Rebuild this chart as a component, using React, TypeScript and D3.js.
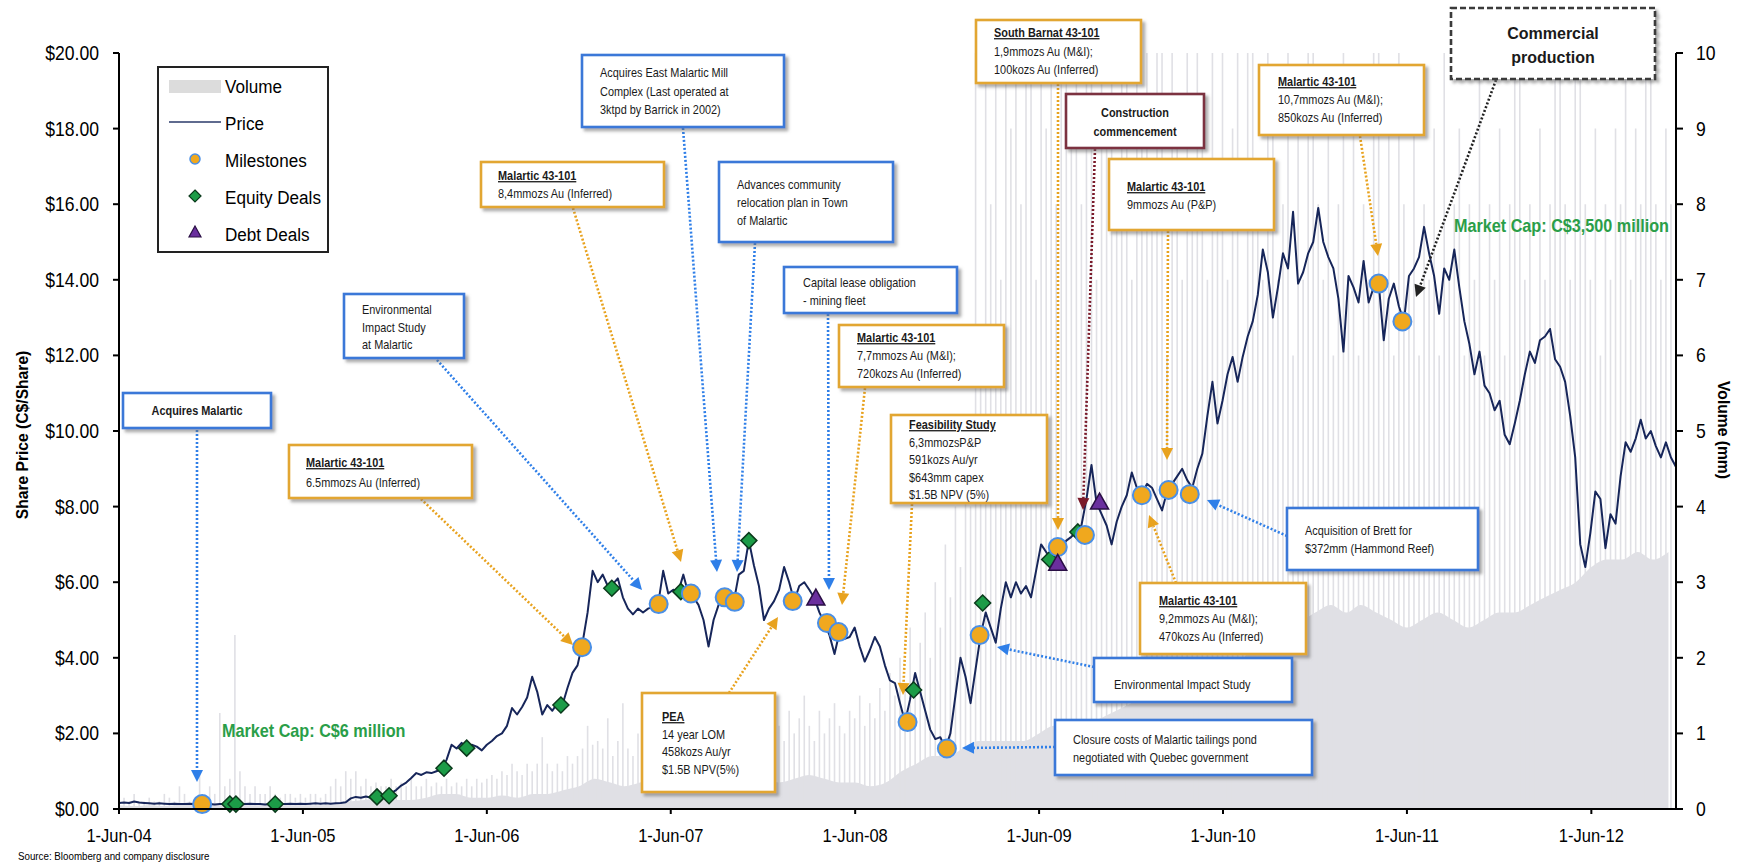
import React, { useEffect } from "react";
import * as d3 from "d3";

// ---------------- DATA ----------------
// Share price (C$/share), one reading every 10 days from the start date
const PRICE_START = "2004-06-01";
const PRICE_STEP_DAYS = 10;
const priceValues = [
  0.16, 0.17, 0.16, 0.2, 0.17, 0.16, 0.15, 0.14, 0.15, 0.14,
  0.13, 0.14, 0.13, 0.13, 0.14, 0.13, 0.13, 0.14, 0.13, 0.12,
  0.13, 0.13, 0.14, 0.13, 0.12, 0.13, 0.14, 0.13, 0.13, 0.12,
  0.13, 0.14, 0.13, 0.13, 0.14, 0.13, 0.14, 0.13, 0.14, 0.15,
  0.14, 0.15, 0.14, 0.15, 0.16, 0.18, 0.28, 0.32, 0.3, 0.33,
  0.3, 0.32, 0.38, 0.35, 0.42, 0.5, 0.62, 0.7, 0.82, 0.95,
  0.9, 0.97, 0.95, 1.0, 1.05, 1.3, 1.7, 1.6, 1.75, 1.62,
  1.7, 1.65, 1.55, 1.7, 1.8, 1.93, 2.0, 2.2, 2.67, 2.5,
  2.7, 2.95, 3.5, 3.1, 2.5, 2.75, 2.6, 2.8, 2.75, 3.2,
  3.6, 3.8, 4.4, 5.2, 6.3, 6.0, 6.2, 5.9, 5.95, 6.1,
  5.6, 5.3, 5.15, 5.3, 5.2, 5.3, 5.35, 5.42, 6.3, 5.7,
  5.8, 5.75, 6.2, 5.7, 5.6, 5.4, 5.0, 4.3, 5.0, 5.4,
  5.6, 5.55, 5.48, 6.2, 6.3, 7.1, 6.45, 5.9, 5.0, 5.3,
  5.5, 5.8, 6.4, 6.0, 5.5, 5.9, 6.0, 5.8, 5.58, 5.2,
  4.92, 4.6, 4.1, 4.68, 4.5, 4.55, 4.8, 4.3, 3.9, 4.2,
  4.55, 4.3, 3.8, 3.4, 3.33, 2.8, 2.3, 2.9, 3.6, 3.1,
  2.6, 2.1, 1.85, 1.9, 1.6, 2.0, 3.0, 4.0, 3.5, 2.8,
  3.7, 4.6, 5.2, 4.8, 4.4, 5.3, 6.0, 5.6, 6.0, 5.7,
  5.9, 5.6, 6.3, 7.0, 6.8, 6.6, 7.0, 6.93, 7.1, 7.2,
  7.33, 7.5, 8.2, 9.1, 8.1, 7.8, 7.5, 7.0, 7.6, 8.0,
  8.3, 8.9, 8.5, 8.3, 8.6, 8.5, 8.2, 7.9, 8.4, 8.6,
  8.8, 9.0, 8.7, 8.5, 9.0, 9.4, 10.4, 11.3, 10.2, 10.8,
  11.5, 11.96, 11.3, 11.96, 12.5, 12.9, 13.6, 14.8, 14.2, 13.0,
  13.8, 14.7, 14.3, 15.8, 13.9, 14.2, 14.7, 15.0, 15.9, 15.0,
  14.6, 14.3, 13.5, 12.1, 14.1, 13.8, 13.4, 14.5, 13.4, 13.8,
  13.9, 12.4, 13.5, 13.9, 13.3, 12.9, 14.1, 14.3, 14.6, 15.4,
  14.7, 14.1, 13.1, 14.3, 14.0, 14.8, 13.8, 12.9, 12.3, 11.5,
  12.1, 11.2, 11.0, 10.55, 10.8, 9.9, 9.65, 10.2, 10.8, 11.5,
  12.1, 11.8, 12.4, 12.5, 12.7, 11.9, 11.7, 11.3, 10.4, 9.3,
  7.0, 6.4, 7.3, 8.4, 8.2, 6.9, 7.8, 7.55, 8.8, 9.7,
  9.45, 9.8, 10.3, 9.8, 10.0, 9.6, 9.3, 9.7, 9.3, 9.05,
];

// Volume (mm): peak daily volume in each 10-day window
const VOLUME_START = "2004-06-01";
const VOLUME_STEP_DAYS = 10;
const volumePeaks = [
  0.1, 0.15, 0.1, 0.2, 0.1, 0.1, 0.15, 0.1, 0.1, 0.2,
  0.15, 0.1, 0.3, 0.2, 0.1, 0.15, 0.5, 0.2, 0.3, 0.2,
  1.27, 0.3, 0.4, 2.3, 0.5, 0.3, 0.2, 0.3, 0.2, 0.2,
  0.3, 0.2, 0.15, 0.2, 0.2, 0.15, 0.2, 0.15, 0.2, 0.2,
  0.15, 0.2, 0.3, 0.4, 0.3, 0.5, 0.4, 0.5, 0.3, 0.4,
  0.3, 0.35, 0.3, 0.3, 0.4, 0.3, 0.35, 0.3, 0.4, 0.3,
  0.3, 0.4, 0.3, 0.35, 0.3, 0.4, 0.3, 0.35, 0.3, 0.4,
  0.3, 0.4, 0.35, 0.4, 0.45, 0.4, 0.5, 0.45, 0.6, 0.5,
  0.45, 0.6, 0.5, 0.6, 0.95, 0.6, 0.5, 0.6, 0.5, 0.7,
  0.6, 0.7, 0.8, 1.1, 0.85, 0.9, 0.8, 1.2, 0.7, 0.9,
  1.4, 0.8, 0.7, 1.0, 0.9, 1.3, 0.8, 1.1, 0.9, 1.4,
  0.8, 1.0, 1.2, 0.9, 1.5, 1.0, 0.8, 1.3, 0.9, 1.1,
  1.0, 1.4, 1.2, 0.9, 1.1, 1.3, 1.0, 0.9, 1.2, 1.4,
  1.0, 1.1, 0.9, 1.3, 1.0, 1.2, 1.5, 1.1, 0.9, 1.3,
  1.0, 1.2, 1.4, 1.1, 1.0, 1.3, 1.2, 1.5, 1.1, 1.4,
  1.2, 1.6, 1.3, 1.8, 1.5, 2.0, 1.6, 2.4, 1.8, 2.2,
  2.6, 2.0, 3.0, 2.4, 3.5, 2.8, 4.0, 3.2, 5.0, 4.0,
  10, 6, 10, 8, 10, 7, 10, 9, 10, 8,
  10, 10, 7, 10, 9, 10, 8, 10, 10, 9,
  10, 8, 10, 10, 7, 10, 9, 10, 8, 10,
  10, 7, 10, 9, 10, 8, 10, 10, 6, 10,
  9, 7, 10, 8, 10, 9, 7, 10, 8, 10,
  7, 9, 10, 6, 10, 10, 8, 7, 10, 9,
  7, 8, 10, 6, 9, 7, 10, 10, 8, 7,
  9, 6, 8, 10, 7, 9, 6, 8, 7, 10,
  10, 7, 9, 6, 10, 8, 7, 9, 6, 8,
  7, 9, 6, 10, 7, 8, 9, 6, 8, 7,
  10, 6, 8, 7, 9, 6, 8, 10, 10, 7,
  8, 6, 9, 7, 8, 10, 10, 8, 7, 10,
  10, 8, 7, 9, 6, 8, 7, 9, 8, 10,
  7, 9, 8, 10, 10, 8, 7, 9, 8, 7,
];

// Volume (mm): typical daily level, one value per month
const VOLUME_BASE_START = "2004-06-01";
const volumeBase = [
  0.05, 0.04, 0.05, 0.04, 0.06, 0.08, 0.06,
  0.08, 0.05, 0.05, 0.06, 0.05, 0.05, 0.05, 0.06, 0.1, 0.12, 0.15, 0.12,
  0.12, 0.15, 0.2, 0.2, 0.15, 0.15, 0.18, 0.15, 0.2, 0.2, 0.25, 0.3,
  0.4, 0.35, 0.3, 0.35, 0.4, 0.35, 0.4, 0.45, 0.4, 0.4, 0.45, 0.4,
  0.35, 0.4, 0.45, 0.4, 0.35, 0.35, 0.3, 0.35, 0.5, 0.6, 0.7, 0.7,
  0.8, 0.9, 0.9, 0.9, 0.9, 1.0, 1.1, 1.0, 1.1, 1.2, 1.3, 1.4,
  1.5, 1.6, 1.6, 1.7, 1.8, 1.8, 1.9, 2.2, 2.5, 2.6, 2.5, 2.6,
  2.7, 2.6, 2.7, 2.6, 2.5, 2.4, 2.5, 2.6, 2.5, 2.4, 2.5, 2.6,
  2.6, 2.7, 2.8, 2.9, 3.0, 3.2, 3.3, 3.3, 3.4, 3.3, 3.4,
];

const milestoneDates = [
  "2004-11-13", "2006-12-07", "2007-05-08", "2007-07-11", "2007-09-16", "2007-10-06",
  "2008-01-29", "2008-04-06", "2008-04-29", "2008-09-13", "2008-11-30", "2009-02-03",
  "2009-07-08", "2009-08-31", "2009-12-22", "2010-02-13", "2010-03-27", "2011-04-06", "2011-05-23",
];
const milestonePrices = [
  0.13, 4.28, 5.42, 5.7, 5.6, 5.48, 5.5, 4.92, 4.68, 2.3, 1.6, 4.6,
  6.93, 7.25, 8.3, 8.44, 8.33, 13.9, 12.9,
];

const equityDates = [
  "2005-01-07", "2005-01-19", "2005-04-07", "2005-10-26", "2005-11-19", "2006-03-08",
  "2006-04-22", "2006-10-26", "2007-02-04", "2007-06-21", "2007-11-03", "2008-09-25",
  "2009-02-09", "2009-06-22", "2009-08-17",
];
const equityPrices = [
  0.13, 0.13, 0.13, 0.32, 0.35, 1.08, 1.61, 2.75, 5.84, 5.75, 7.1, 3.15, 5.45, 6.6, 7.33,
];

const debtDates = ["2008-03-15", "2009-07-08", "2009-09-29"];
const debtPrices = [5.58, 6.5, 8.12];

const xTickDates = [
  "2004-06-01", "2005-06-01", "2006-06-01", "2007-06-01", "2008-06-01",
  "2009-06-01", "2010-06-01", "2011-06-01", "2012-06-01",
];
const xTickLabels = [
  "1-Jun-04", "1-Jun-05", "1-Jun-06", "1-Jun-07", "1-Jun-08",
  "1-Jun-09", "1-Jun-10", "1-Jun-11", "1-Jun-12",
];
const priceTicks = [0, 2, 4, 6, 8, 10, 12, 14, 16, 18, 20];
const volumeTicks = [0, 1, 2, 3, 4, 5, 6, 7, 8, 9, 10];
const legendLabels = ["Volume", "Price", "Milestones", "Equity Deals", "Debt Deals"];

// ---------------- LAYOUT / STYLE ----------------
const SANS = "'Liberation Sans', Arial, sans-serif";

const C = {
  blueBox: "#3b78d8",
  orangeBox: "#e2a633",
  redBox: "#7b3040",
  darkBox: "#3a3a3a",
  blueArrow: "#2f7fe8",
  orangeArrow: "#e8a21e",
  redArrow: "#7a1a2a",
  darkArrow: "#222",
  milestoneFill: "#f0a81e",
  milestoneStroke: "#4a8fe6",
  equityFill: "#1c9c47",
  equityStroke: "#0b3a1c",
  debtFill: "#6a2f9e",
  debtStroke: "#2a0f45",
  price: "#17265a",
  volume: "#e0e0e5",
  green: "#2a9e48",
};

type Line = { t: string; title?: boolean };
type Ann = {
  x: number; y: number; w: number; h: number;
  color: string; arrowColor: string;
  tx: number; ty: number; lh: number;
  center?: boolean; bold?: boolean; dashed?: boolean; big?: boolean;
  lines: Line[];
  from: [number, number]; to: [number, number];
};

const L = (t: string): Line => ({ t });
const T = (t: string): Line => ({ t, title: true });

const annotations: Ann[] = [
  { x: 123, y: 393, w: 148, h: 35, color: C.blueBox, arrowColor: C.blueArrow, tx: 197, ty: 415, lh: 18, center: true, bold: true,
    lines: [L("Acquires Malartic")], from: [197, 430], to: [197, 782] },
  { x: 344, y: 294, w: 120, h: 64, color: C.blueBox, arrowColor: C.blueArrow, tx: 362, ty: 314, lh: 17.5,
    lines: [L("Environmental"), L("Impact Study"), L("at Malartic")], from: [437, 360], to: [642, 590] },
  { x: 481, y: 162, w: 183, h: 45, color: C.orangeBox, arrowColor: C.orangeArrow, tx: 498, ty: 180, lh: 18,
    lines: [T("Malartic 43-101"), L("8,4mmozs Au (Inferred)")], from: [573, 208], to: [681, 562] },
  { x: 289, y: 445, w: 183, h: 53, color: C.orangeBox, arrowColor: C.orangeArrow, tx: 306, ty: 467, lh: 20,
    lines: [T("Malartic 43-101"), L("6.5mmozs Au (Inferred)")], from: [421, 499], to: [573, 645] },
  { x: 582, y: 55, w: 202, h: 72, color: C.blueBox, arrowColor: C.blueArrow, tx: 600, ty: 77, lh: 18.5,
    lines: [L("Acquires East Malartic Mill"), L("Complex (Last operated at"), L("3ktpd by Barrick in 2002)")], from: [683, 128], to: [717, 572] },
  { x: 719, y: 162, w: 174, h: 80, color: C.blueBox, arrowColor: C.blueArrow, tx: 737, ty: 189, lh: 18,
    lines: [L("Advances community"), L("relocation plan in Town"), L("of Malartic")], from: [755, 243], to: [737, 572] },
  { x: 784, y: 267, w: 173, h: 46, color: C.blueBox, arrowColor: C.blueArrow, tx: 803, ty: 287, lh: 17.5,
    lines: [L("Capital lease obligation"), L("- mining fleet")], from: [828, 314], to: [829, 590] },
  { x: 839, y: 325, w: 165, h: 62, color: C.orangeBox, arrowColor: C.orangeArrow, tx: 857, ty: 342, lh: 18,
    lines: [T("Malartic 43-101"), L("7,7mmozs Au (M&I);"), L("720kozs Au (Inferred)")], from: [865, 388], to: [842, 605] },
  { x: 891, y: 415, w: 156, h: 88, color: C.orangeBox, arrowColor: C.orangeArrow, tx: 909, ty: 429, lh: 17.5,
    lines: [T("Feasibility Study"), L("6,3mmozsP&P"), L("591kozs Au/yr"), L("$643mm capex"), L("$1.5B NPV (5%)")], from: [912, 504], to: [903, 695] },
  { x: 976, y: 20, w: 165, h: 63, color: C.orangeBox, arrowColor: C.orangeArrow, tx: 994, ty: 37, lh: 18.5,
    lines: [T("South Barnat 43-101"), L("1,9mmozs Au (M&I);"), L("100kozs Au (Inferred)")], from: [1058, 84], to: [1058, 530] },
  { x: 1066, y: 94, w: 138, h: 54, color: C.redBox, arrowColor: C.redArrow, tx: 1135, ty: 117, lh: 19, center: true, bold: true,
    lines: [L("Construction"), L("commencement")], from: [1095, 149], to: [1083, 510] },
  { x: 1109, y: 159, w: 165, h: 71, color: C.orangeBox, arrowColor: C.orangeArrow, tx: 1127, ty: 191, lh: 18,
    lines: [T("Malartic 43-101"), L("9mmozs Au (P&P)")], from: [1168, 231], to: [1167, 460] },
  { x: 1259, y: 65, w: 165, h: 70, color: C.orangeBox, arrowColor: C.orangeArrow, tx: 1278, ty: 86, lh: 18,
    lines: [T("Malartic 43-101"), L("10,7mmozs Au (M&I);"), L("850kozs Au (Inferred)")], from: [1360, 136], to: [1378, 256] },
  { x: 1451, y: 8, w: 204, h: 71, color: C.darkBox, arrowColor: C.darkArrow, tx: 1553, ty: 39, lh: 24, center: true, bold: true, dashed: true, big: true,
    lines: [L("Commercial"), L("production")], from: [1496, 80], to: [1416, 297] },
  { x: 1287, y: 508, w: 191, h: 62, color: C.blueBox, arrowColor: C.blueArrow, tx: 1305, ty: 535, lh: 17.5,
    lines: [L("Acquisition of Brett for"), L("$372mm (Hammond Reef)")], from: [1287, 536], to: [1207, 500] },
  { x: 1140, y: 583, w: 166, h: 71, color: C.orangeBox, arrowColor: C.orangeArrow, tx: 1159, ty: 605, lh: 18,
    lines: [T("Malartic 43-101"), L("9,2mmozs Au (M&I);"), L("470kozs Au (Inferred)")], from: [1176, 583], to: [1149, 515] },
  { x: 1094, y: 658, w: 198, h: 44, color: C.blueBox, arrowColor: C.blueArrow, tx: 1114, ty: 689, lh: 18,
    lines: [L("Environmental Impact Study")], from: [1094, 667], to: [997, 647] },
  { x: 1055, y: 720, w: 257, h: 55, color: C.blueBox, arrowColor: C.blueArrow, tx: 1073, ty: 744, lh: 18,
    lines: [L("Closure costs of Malartic tailings pond"), L("negotiated with Quebec government")], from: [1055, 747], to: [962, 748] },
  { x: 642, y: 693, w: 133, h: 99, color: C.orangeBox, arrowColor: C.orangeArrow, tx: 662, ty: 721, lh: 17.5,
    lines: [T("PEA"), L("14 year LOM"), L("458kozs Au/yr"), L("$1.5B NPV(5%)")], from: [729, 693], to: [778, 617] },
];

function arrowPath(from: [number, number], to: [number, number], len = 12, hw = 6) {
  const [x1, y1] = from;
  const [x2, y2] = to;
  const dx = x2 - x1, dy = y2 - y1;
  const d = Math.hypot(dx, dy) || 1;
  const ux = dx / d, uy = dy / d;
  const bx = x2 - ux * len, by = y2 - uy * len;
  const head = `M${x2},${y2}L${bx - uy * hw},${by + ux * hw}L${bx + uy * hw},${by - ux * hw}Z`;
  return { head, bx, by };
}

// condensed text (narrow look) via horizontal scaling
function NText(props: any) {
  const { x, y, sx = 0.86, children, ...rest } = props;
  return (
    <text transform={`translate(${x},${y}) scale(${sx},1)`} fontFamily={SANS} {...rest}>
      {children}
    </text>
  );
}

export default function App() {
  useEffect(() => {
    document.body.style.margin = "0";
  }, []);

  const parse = d3.utcParse("%Y-%m-%d");
  const p = (s: string) => parse(s) as Date;

  const left = 119, right = 1676, top = 53, bottom = 809;

  const x = d3.scaleUtc().domain([p("2004-06-01"), p("2012-11-16")]).range([left, right]);
  const yP = d3.scaleLinear().domain([0, 20]).range([bottom, top]);
  const yV = d3.scaleLinear().domain([0, 10]).range([bottom, top]);

  const priceStart = p(PRICE_START);
  const pricePts: [Date, number][] = priceValues.map((v, i) => [d3.utcDay.offset(priceStart, i * PRICE_STEP_DAYS), v]);
  const volStart = p(VOLUME_START);
  const volPts: [Date, number][] = volumePeaks.map((v, i) => [d3.utcDay.offset(volStart, i * VOLUME_STEP_DAYS), v]);
  const baseStart = p(VOLUME_BASE_START);
  const basePts: [Date, number][] = volumeBase.map((v, i) => [d3.utcMonth.offset(baseStart, i), v]);

  const priceLine = d3.line<[Date, number]>().x((d) => x(d[0])).y((d) => yP(d[1]));
  const baseArea = d3
    .area<[Date, number]>()
    .x((d) => x(d[0]))
    .y0(yV(0))
    .y1((d) => yV(d[1]))
    .curve(d3.curveMonotoneX);

  const diamond = "M0,-8L8,0L0,8L-8,0Z";
  const triangle = "M0,-9L9,7L-9,7Z";

  return (
    <svg width={1737} height={864} style={{ display: "block", background: "#fff" }}>
      <defs>
        <clipPath id="plotClip">
          <rect x={left} y={top} width={right - left} height={bottom - top} />
        </clipPath>
        <filter id="shadow" x="-10%" y="-10%" width="130%" height="150%">
          <feDropShadow dx="3" dy="3" stdDeviation="1.6" floodColor="#6b6b6b" floodOpacity="0.55" />
        </filter>
      </defs>

      {/* volume */}
      <g clipPath="url(#plotClip)">
        <path d={baseArea(basePts) || ""} fill={C.volume} />
        {volPts.map((d, i) => (
          <line key={i} x1={x(d[0])} x2={x(d[0])} y1={yV(0)} y2={yV(Math.min(d[1], 10))} stroke={C.volume} strokeWidth={1.6} />
        ))}
      </g>

      {/* price */}
      <g clipPath="url(#plotClip)">
        <path d={priceLine(pricePts) || ""} fill="none" stroke={C.price} strokeWidth={2} strokeLinejoin="round" />
      </g>

      {/* annotation arrows */}
      {annotations.map((a, i) => {
        const ah = arrowPath(a.from, a.to);
        return (
          <g key={"ar" + i}>
            <line x1={a.from[0]} y1={a.from[1]} x2={ah.bx} y2={ah.by} stroke={a.arrowColor} strokeWidth={2.6} strokeDasharray="2 2" />
            <path d={ah.head} fill={a.arrowColor} />
          </g>
        );
      })}

      {/* annotation boxes */}
      {annotations.map((a, i) => (
        <g key={"bx" + i}>
          <rect x={a.x} y={a.y} width={a.w} height={a.h} fill="#fff" stroke={a.color} strokeWidth={2.6}
            strokeDasharray={a.dashed ? "6 3" : undefined} filter="url(#shadow)" />
          {a.lines.map((ln, j) =>
            a.big ? (
              <text key={j} x={a.tx} y={a.ty + j * a.lh} textAnchor="middle" fontFamily={SANS} fontSize={16} fontWeight="bold" fill="#1a1a1a">
                {ln.t}
              </text>
            ) : (
              <NText key={j} x={a.tx} y={a.ty + j * a.lh} sx={0.84}
                textAnchor={a.center ? "middle" : "start"}
                fontSize={13}
                fontWeight={a.bold || ln.title ? "bold" : "normal"}
                style={ln.title ? { textDecoration: "underline" } : undefined}
                fill="#1a1a1a">
                {ln.t}
              </NText>
            )
          )}
        </g>
      ))}

      {/* markers */}
      {equityDates.map((d, i) => (
        <path key={"e" + i} d={diamond} transform={`translate(${x(p(d))},${yP(equityPrices[i])})`} fill={C.equityFill} stroke={C.equityStroke} strokeWidth={1.5} />
      ))}
      {milestoneDates.map((d, i) => (
        <circle key={"m" + i} cx={x(p(d))} cy={yP(milestonePrices[i])} r={9} fill={C.milestoneFill} stroke={C.milestoneStroke} strokeWidth={2} />
      ))}
      {debtDates.map((d, i) => (
        <path key={"d" + i} d={triangle} transform={`translate(${x(p(d))},${yP(debtPrices[i])})`} fill={C.debtFill} stroke={C.debtStroke} strokeWidth={1.5} />
      ))}

      {/* market cap labels */}
      <NText x={222} y={737} sx={0.9} fontWeight="bold" fontSize={18} fill={C.green}>Market Cap: C$6 million</NText>
      <NText x={1454} y={232} sx={0.9} fontWeight="bold" fontSize={18} fill={C.green}>Market Cap: C$3,500 million</NText>

      {/* axes */}
      <g stroke="#000" strokeWidth={2} fill="none">
        <line x1={left} x2={left} y1={top} y2={bottom} />
        <line x1={right} x2={right} y1={top} y2={bottom} />
        <line x1={left} x2={right} y1={bottom} y2={bottom} />
        {priceTicks.map((t) => (
          <line key={"pt" + t} x1={left - 6} x2={left} y1={yP(t)} y2={yP(t)} />
        ))}
        {volumeTicks.map((t) => (
          <line key={"vt" + t} x1={right} x2={right + 7} y1={yV(t)} y2={yV(t)} />
        ))}
        {xTickDates.map((d) => (
          <line key={"xt" + d} x1={x(p(d))} x2={x(p(d))} y1={bottom} y2={bottom + 5} />
        ))}
      </g>
      {priceTicks.map((t) => (
        <NText key={"pl" + t} x={99} y={yP(t)} sx={0.88} dy="0.35em" textAnchor="end" fontSize={20} fill="#000">
          {"$" + t.toFixed(2)}
        </NText>
      ))}
      {volumeTicks.map((t) => (
        <NText key={"vl" + t} x={1696} y={yV(t)} sx={0.88} dy="0.35em" textAnchor="start" fontSize={20} fill="#000">
          {t}
        </NText>
      ))}
      {xTickDates.map((d, i) => (
        <NText key={"xl" + d} x={x(p(d))} y={842} sx={0.87} textAnchor="middle" fontSize={19} fill="#000">
          {xTickLabels[i]}
        </NText>
      ))}

      <text transform="translate(28,435) rotate(-90) scale(0.92,1)" textAnchor="middle" fontFamily={SANS} fontWeight="bold" fontSize={17} fill="#000">
        Share Price (C$/Share)
      </text>
      <text transform="translate(1718,430) rotate(90) scale(0.92,1)" textAnchor="middle" fontFamily={SANS} fontWeight="bold" fontSize={17} fill="#000">
        Volume (mm)
      </text>
      <NText x={18} y={860} sx={0.85} fontSize={11.5} fill="#000">
        Source: Bloomberg and company disclosure
      </NText>

      {/* legend */}
      <g>
        <rect x={158} y={67} width={170} height={185} fill="#fff" stroke="#222" strokeWidth={2} />
        <rect x={169} y={80} width={52} height={13} fill="#dcdcdc" />
        <line x1={169} x2={221} y1={122} y2={122} stroke="#2a3a6a" strokeWidth={1.5} />
        <circle cx={195} cy={159} r={5} fill={C.milestoneFill} stroke={C.milestoneStroke} strokeWidth={1.5} />
        <path d="M0,-6L6,0L0,6L-6,0Z" transform="translate(195,196)" fill={C.equityFill} stroke={C.equityStroke} strokeWidth={1.2} />
        <path d="M0,-6L6,5L-6,5Z" transform="translate(195,232)" fill={C.debtFill} stroke={C.debtStroke} strokeWidth={1.2} />
        {legendLabels.map((t, i) => (
          <NText key={t} x={225} y={93 + i * 37} sx={0.9} fontSize={19} fill="#000">{t}</NText>
        ))}
      </g>
    </svg>
  );
}
